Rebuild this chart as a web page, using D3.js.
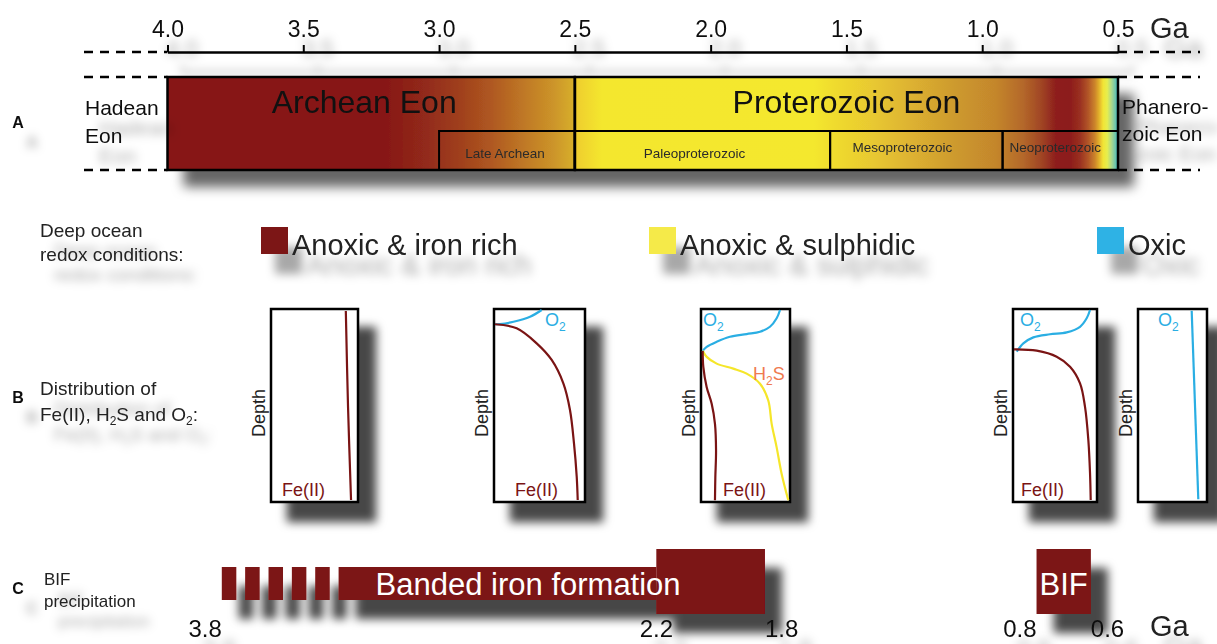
<!DOCTYPE html>
<html>
<head>
<meta charset="utf-8">
<script src="https://cdn.jsdelivr.net/npm/d3@7"></script>
<style>
  html, body { margin: 0; padding: 0; background: #ffffff; }
  svg { display: block; font-family: "Liberation Sans", Arial, Helvetica, sans-serif; }
</style>
</head>
<body>
<svg id="chart" width="1217" height="644"></svg>
<script>
// ---------------- data ----------------
// geological time axis (billions of years ago)
const axisTicks = [4.0, 3.5, 3.0, 2.5, 2.0, 1.5, 1.0, 0.5];

// eons drawn inside the time bar
const eonNames = ["Archean Eon", "Proterozoic Eon"];
const eonStart = [4.0, 2.5];
const eonEnd   = [2.5, 0.5];

// eras / sub-divisions
const eraNames = ["Late Archean", "Paleoproterozoic", "Mesoproterozoic", "Neoproterozoic"];
const eraStart = [3.0, 2.5, 1.56, 0.925];
const eraEnd   = [2.5, 1.56, 0.925, 0.5];

// deep-ocean redox colour along the bar (age, colour)
const redoxAges    = [4.0, 3.2, 3.05, 2.92, 2.8, 2.68, 2.58, 2.51, 2.5, 2.49, 2.4, 1.62, 1.55, 1.4, 1.25, 1.1, 0.95, 0.85, 0.78, 0.73, 0.68, 0.64, 0.61, 0.585, 0.57, 0.555, 0.54, 0.525, 0.512, 0.5];
const redoxColours = ["#871717", "#871717", "#922a1a", "#a0401d", "#b05a21", "#c07a26", "#cc9429", "#d6ac2c", "#dab42c", "#efcf2e", "#f4e72d", "#f4e82d", "#f0dc2e", "#e8c830", "#dcb030", "#cd9a2e", "#c4862c", "#b4682a", "#a04424", "#8e1f1d", "#8c1a1c", "#9a3020", "#b25628", "#cc842a", "#e2b02c", "#f2e434", "#e6ee4e", "#b0da88", "#78c8a8", "#3eb4bc"];

// redox legend
const redoxNames  = ["Anoxic & iron rich", "Anoxic & sulphidic", "Oxic"];
const redoxSwatch = ["#7c1214", "#f5ea48", "#2db2e5"];

// water-column profiles: [relative concentration, relative depth]
const feProfile1  = [[0.86, 0.01], [0.885, 0.5], [0.92, 0.99]];
const o2Profile2  = [[0.524, 0.005], [0.396, 0.04], [0.214, 0.066], [0.066, 0.078], [0.011, 0.079]];
const feProfile2  = [[0.011, 0.079], [0.249, 0.1], [0.469, 0.178], [0.634, 0.264], [0.762, 0.385], [0.835, 0.523], [0.879, 0.696], [0.909, 0.869], [0.92, 0.99]];
const o2Profile3  = [[0.888, 0.005], [0.85, 0.048], [0.775, 0.092], [0.663, 0.118], [0.513, 0.13], [0.326, 0.144], [0.176, 0.17], [0.064, 0.196], [0.019, 0.217]];
const h2sProfile3 = [[0.019, 0.217], [0.064, 0.248], [0.176, 0.283], [0.363, 0.309], [0.513, 0.335], [0.663, 0.387], [0.756, 0.474], [0.794, 0.595], [0.85, 0.717], [0.907, 0.856], [0.981, 0.991]];
const feProfile3  = [[0.019, 0.217], [0.026, 0.3], [0.064, 0.405], [0.12, 0.491], [0.157, 0.595], [0.169, 0.734], [0.161, 0.873], [0.157, 0.991]];
const o2Profile4  = [[0.917, 0.005], [0.877, 0.048], [0.798, 0.092], [0.639, 0.121], [0.44, 0.131], [0.242, 0.147], [0.123, 0.178], [0.044, 0.221]];
const feProfile4  = [[0.012, 0.209], [0.282, 0.216], [0.52, 0.247], [0.679, 0.299], [0.798, 0.385], [0.857, 0.506], [0.897, 0.679], [0.917, 0.851], [0.925, 0.99]];
const o2Profile5  = [[0.778, 0.009], [0.874, 0.986]];

// banded iron formation record (Ga)
const bifLabels = ["3.8", "2.2", "1.8", "0.8", "0.6"];
const bifAges   = [3.8, 2.2, 1.8, 0.8, 0.6];
const bifSolidFrom = 3.37;   // sporadic occurrences before this age
const bifDashCount = 5;

// ---------------- layout & style ----------------
const W = 1217, H = 644;
const FONT = '"Liberation Sans", Arial, Helvetica, sans-serif';
const C = { fe: "#7a1414", o2: "#2aaee3", h2s: "#f5e62a", h2sText: "#ef7a4f", bif: "#7c1214", ink: "#111" };

const axisY = 52, barTop = 77, barBottom = 170, eraTop = 131;
const boxTop = 309, boxH = 193;
const boxes = [
  { left: 271, width: 87 }, { left: 494, width: 91 }, { left: 701, width: 89 },
  { left: 1013, width: 84 }, { left: 1138, width: 69 }
];
const profiles = [
  { box: 0, curves: [["fe", feProfile1]], labels: [["fe", 11]] },
  { box: 1, curves: [["o2", o2Profile2], ["fe", feProfile2]], labels: [["fe", 21], ["o2", 51]] },
  { box: 2, curves: [["o2", o2Profile3], ["h2s", h2sProfile3], ["fe", feProfile3]], labels: [["fe", 22], ["o2", 2], ["h2s", 52]] },
  { box: 3, curves: [["o2", o2Profile4], ["fe", feProfile4]], labels: [["fe", 8], ["o2", 7]] },
  { box: 4, curves: [["o2", o2Profile5]], labels: [["o2", 20]] }
];
const legendX = [261, 649, 1097];

const x = d3.scaleLinear().domain([4.0, 0.5]).range([167.5, 1118]);

const svg = d3.select("#chart");
const defs = svg.append("defs");

function addShadow(id, blur, dx, dy, opacity) {
  const f = defs.append("filter").attr("id", id)
    .attr("filterUnits", "userSpaceOnUse")
    .attr("x", -50).attr("y", -50).attr("width", W + 100).attr("height", H + 100);
  f.append("feGaussianBlur").attr("in", "SourceAlpha").attr("stdDeviation", blur);
  f.append("feOffset").attr("dx", dx).attr("dy", dy).attr("result", "off");
  f.append("feFlood").attr("flood-color", "#000").attr("flood-opacity", opacity);
  f.append("feComposite").attr("in2", "off").attr("operator", "in");
  const m = f.append("feMerge");
  m.append("feMergeNode");
  m.append("feMergeNode").attr("in", "SourceGraphic");
}
addShadow("shText", 5, 14, 20, 0.34);
addShadow("shBar", 6, 16, 17, 0.6);
addShadow("shShape", 5, 17, 19, 0.72);

// colour gradient of the time bar
const grad = defs.append("linearGradient").attr("id", "redoxGrad")
  .attr("gradientUnits", "userSpaceOnUse")
  .attr("x1", x(4.0)).attr("x2", x(0.5)).attr("y1", 0).attr("y2", 0);
const gScale = d3.scaleLinear().domain([4.0, 0.5]).range([0, 1]);
redoxAges.forEach((a, i) => {
  grad.append("stop").attr("offset", gScale(a)).attr("stop-color", redoxColours[i]);
});

// ---------------- A : time axis and eons ----------------
const axisG = svg.append("g").attr("transform", `translate(0,${axisY})`).attr("filter", "url(#shText)");
axisG.call(d3.axisTop(x).tickValues(axisTicks).tickFormat(d3.format(".1f")).tickSize(7).tickSizeOuter(0).tickPadding(8));
axisG.select(".domain").attr("stroke", "#000").attr("stroke-width", 2.5);
axisG.selectAll(".tick line").attr("stroke", "#000").attr("stroke-width", 2);
axisG.selectAll(".tick text").attr("font-family", FONT).attr("font-size", 23).attr("fill", "#111");

svg.append("text").attr("x", 1150).attr("y", 38).attr("font-size", 29).attr("fill", "#222")
  .attr("filter", "url(#shText)").text("Ga");

// dashed continuation lines
const dashG = svg.append("g").attr("stroke", "#000").attr("stroke-width", 2.5).attr("stroke-dasharray", "9,7");
[axisY, barTop, barBottom].forEach(yy => {
  dashG.append("line").attr("x1", 84).attr("x2", x(4.0)).attr("y1", yy).attr("y2", yy);
  dashG.append("line").attr("x1", x(0.5)).attr("x2", 1200).attr("y1", yy).attr("y2", yy);
});

// bar with shadow
const barG = svg.append("g");
barG.append("rect").attr("x", x(4.0)).attr("y", barTop).attr("width", x(0.5) - x(4.0))
  .attr("height", barBottom - barTop).attr("fill", "url(#redoxGrad)").attr("filter", "url(#shBar)");

// eras
barG.selectAll("rect.era").data(eraNames).join("rect").attr("class", "era")
  .attr("x", (d, i) => x(eraStart[i])).attr("y", eraTop)
  .attr("width", (d, i) => x(eraEnd[i]) - x(eraStart[i])).attr("height", barBottom - eraTop)
  .attr("fill", "none").attr("stroke", "#000").attr("stroke-width", 2);
const eraBaseline = [158, 158, 152, 152];
const eraShift = [-2, -8, -14, -5];
barG.selectAll("text.era").data(eraNames).join("text").attr("class", "era")
  .attr("x", (d, i) => (x(eraStart[i]) + x(eraEnd[i])) / 2 + eraShift[i])
  .attr("y", (d, i) => eraBaseline[i])
  .attr("text-anchor", "middle").attr("font-size", 13.5).attr("fill", "#2a2a2a").text(d => d);

// eons
barG.selectAll("rect.eon").data(eonNames).join("rect").attr("class", "eon")
  .attr("x", (d, i) => x(eonStart[i])).attr("y", barTop)
  .attr("width", (d, i) => x(eonEnd[i]) - x(eonStart[i])).attr("height", barBottom - barTop)
  .attr("fill", "none").attr("stroke", "#000").attr("stroke-width", 2.5);
barG.selectAll("text.eon").data(eonNames).join("text").attr("class", "eon")
  .attr("x", (d, i) => (x(eonStart[i]) + x(eonEnd[i])) / 2 - (i === 0 ? 7 : 0))
  .attr("y", 113).attr("text-anchor", "middle").attr("font-size", 32).attr("fill", C.ink).text(d => d);

// labels outside the bar
const sideG = svg.append("g").attr("filter", "url(#shText)").attr("fill", C.ink);
sideG.append("text").attr("x", 18).attr("y", 128).attr("text-anchor", "middle").attr("font-size", 16).attr("font-weight", "bold").text("A");
sideG.append("text").attr("x", 85).attr("y", 115).attr("font-size", 21).text("Hadean");
sideG.append("text").attr("x", 85).attr("y", 143).attr("font-size", 21).text("Eon");
sideG.append("text").attr("x", 1122).attr("y", 114).attr("font-size", 21).text("Phanero-");
sideG.append("text").attr("x", 1122).attr("y", 141).attr("font-size", 21).text("zoic Eon");

// ---------------- redox legend ----------------
const legG = svg.append("g").attr("filter", "url(#shText)");
legG.append("text").attr("x", 40).attr("y", 237).attr("font-size", 19).attr("fill", "#222").text("Deep ocean");
legG.append("text").attr("x", 40).attr("y", 261).attr("font-size", 19).attr("fill", "#222").text("redox conditions:");
const legItems = legG.selectAll("g.item").data(redoxNames).join("g").attr("class", "item")
  .attr("transform", (d, i) => `translate(${legendX[i]},227)`);
legItems.append("rect").attr("width", 27).attr("height", 27).attr("fill", (d, i) => redoxSwatch[i]);
legItems.append("text").attr("x", 31).attr("y", 28).attr("font-size", 29).attr("fill", "#222").text(d => d);

// ---------------- B : water-column profiles ----------------
const bLab = svg.append("g").attr("filter", "url(#shText)").attr("fill", "#222");
bLab.append("text").attr("x", 18).attr("y", 403).attr("text-anchor", "middle").attr("font-size", 16).attr("font-weight", "bold").attr("fill", C.ink).text("B");
bLab.append("text").attr("x", 40).attr("y", 395).attr("font-size", 19).text("Distribution of");
const l2 = bLab.append("text").attr("x", 40).attr("y", 421).attr("font-size", 19);
l2.append("tspan").text("Fe(II), H");
l2.append("tspan").attr("font-size", 12).attr("dy", 4).text("2");
l2.append("tspan").attr("dy", -4).text("S and O");
l2.append("tspan").attr("font-size", 12).attr("dy", 4).text("2");
l2.append("tspan").attr("dy", -4).text(":");

function speciesLabel(sel, sp) {
  if (sp === "fe") { sel.attr("fill", C.fe).text("Fe(II)"); return; }
  if (sp === "o2") {
    sel.attr("fill", C.o2);
    sel.append("tspan").text("O");
    sel.append("tspan").attr("font-size", 12).attr("dy", 5).text("2");
    return;
  }
  sel.attr("fill", C.h2sText);
  sel.append("tspan").text("H");
  sel.append("tspan").attr("font-size", 12).attr("dy", 5).text("2");
  sel.append("tspan").attr("dy", -5).text("S");
}
const labelY = { fe: 496, o2: 326, h2s: 380 };

profiles.forEach(p => {
  const b = boxes[p.box];
  const px = d3.scaleLinear().domain([0, 1]).range([b.left, b.left + b.width]);
  const py = d3.scaleLinear().domain([0, 1]).range([boxTop, boxTop + boxH]);
  const g = svg.append("g");
  g.append("rect").attr("x", b.left).attr("y", boxTop).attr("width", b.width).attr("height", boxH)
    .attr("fill", "#fff").attr("stroke", "#000").attr("stroke-width", 2.5).attr("filter", "url(#shShape)");
  const line = d3.line().x(d => px(d[0])).y(d => py(d[1])).curve(d3.curveCatmullRom.alpha(0.5));
  p.curves.forEach(([sp, pts]) => {
    g.append("path").attr("d", line(pts)).attr("fill", "none")
      .attr("stroke", sp === "fe" ? C.fe : sp === "o2" ? C.o2 : C.h2s).attr("stroke-width", 2.2);
  });
  p.labels.forEach(([sp, dx]) => {
    const t = g.append("text").attr("x", b.left + dx).attr("y", labelY[sp]).attr("font-size", 18);
    speciesLabel(t, sp);
  });
  g.append("text").attr("transform", `translate(${b.left - 6},${boxTop + 104}) rotate(-90)`)
    .attr("text-anchor", "middle").attr("font-size", 18).attr("fill", "#222").text("Depth");
});

// ---------------- C : banded iron formation ----------------
const cLab = svg.append("g").attr("filter", "url(#shText)").attr("fill", "#222");
cLab.append("text").attr("x", 18).attr("y", 594).attr("text-anchor", "middle").attr("font-size", 16).attr("font-weight", "bold").attr("fill", C.ink).text("C");
cLab.append("text").attr("x", 44).attr("y", 585).attr("font-size", 17).text("BIF");
cLab.append("text").attr("x", 44).attr("y", 607).attr("font-size", 17).text("precipitation");

const lowTop = 567, lowBottom = 600, peakTop = 549, peakBottom = 614;
const bifG = svg.append("g").attr("filter", "url(#shShape)").attr("fill", C.bif);
const period = (x(bifSolidFrom) - x(bifAges[0])) / bifDashCount;
d3.range(bifDashCount).forEach(k => {
  bifG.append("rect").attr("x", x(bifAges[0]) + k * period).attr("y", lowTop)
    .attr("width", period * 0.62).attr("height", lowBottom - lowTop);
});
bifG.append("rect").attr("x", x(bifSolidFrom)).attr("y", lowTop)
  .attr("width", x(bifAges[1]) - x(bifSolidFrom)).attr("height", lowBottom - lowTop);
bifG.append("rect").attr("x", x(bifAges[1])).attr("y", peakTop)
  .attr("width", x(bifAges[2]) - x(bifAges[1])).attr("height", peakBottom - peakTop);
bifG.append("rect").attr("x", x(bifAges[3])).attr("y", peakTop)
  .attr("width", x(bifAges[4]) - x(bifAges[3])).attr("height", peakBottom - peakTop);

svg.append("text").attr("x", x(bifSolidFrom) + 37).attr("y", 595).attr("font-size", 31).attr("fill", "#fff")
  .text("Banded iron formation");
svg.append("text").attr("x", (x(bifAges[3]) + x(bifAges[4])) / 2).attr("y", 595).attr("text-anchor", "middle")
  .attr("font-size", 31).attr("fill", "#fff").text("BIF");

const bifAnchor = ["end", "middle", "start", "end", "start"];
const bifTickG = svg.append("g").attr("filter", "url(#shText)");
bifTickG.selectAll("text").data(bifLabels).join("text")
  .attr("x", (d, i) => x(bifAges[i])).attr("y", 637).attr("text-anchor", (d, i) => bifAnchor[i])
  .attr("font-size", 24).attr("fill", "#111").text(d => d);
bifTickG.append("text").attr("x", 1150).attr("y", 636).attr("font-size", 29).attr("fill", "#222").text("Ga");
</script>
</body>
</html>
